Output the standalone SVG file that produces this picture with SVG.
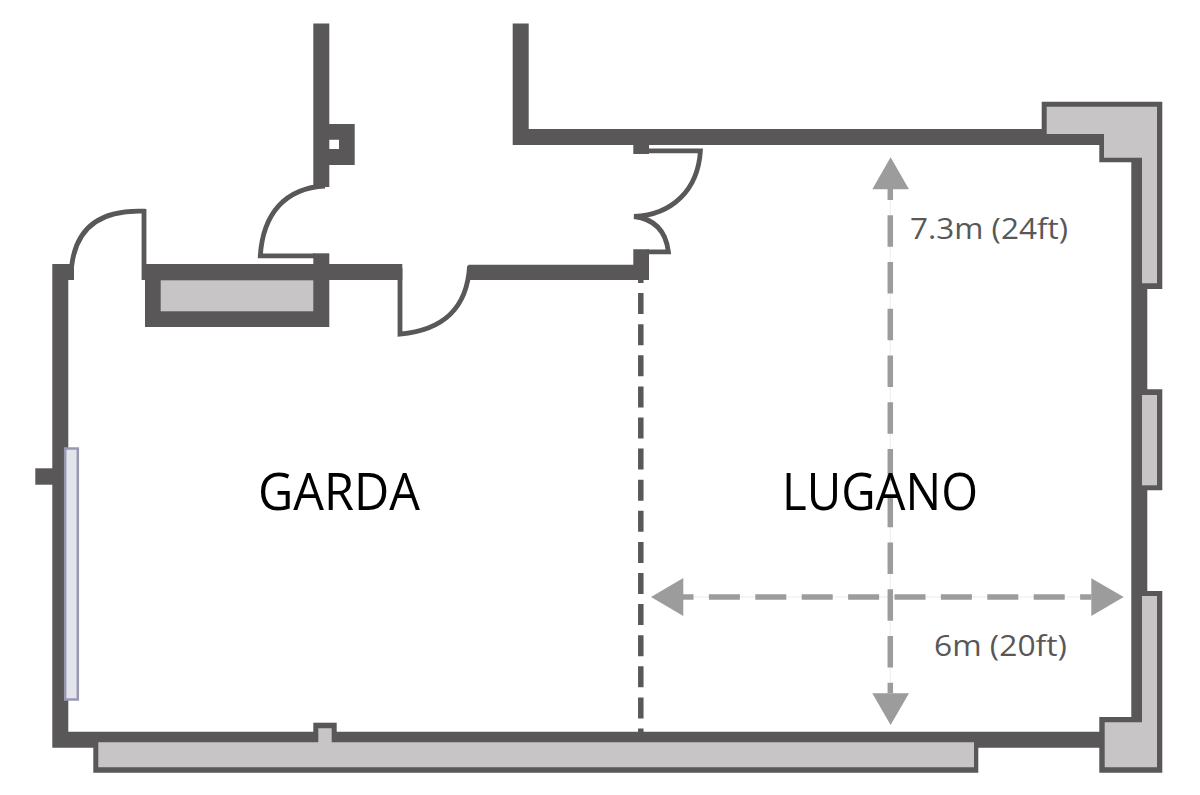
<svg xmlns="http://www.w3.org/2000/svg" width="1200" height="795" viewBox="0 0 1200 795">
<style>
.w{fill:#595758}
.f{fill:#c7c5c6}
.d{fill:none;stroke:#595758;stroke-width:4.8}
.a{fill:#9c9c9c}
.g{stroke:#9c9c9c;stroke-width:5.5;fill:none}
.h{stroke:#efefef;stroke-width:1.2;fill:none}
text{font-family:"Open Sans","Noto Sans","Liberation Sans",sans-serif}
.n{font-size:52px;fill:#000}
.m{font-size:30px;fill:#595758}
</style>
<rect width="1200" height="795" fill="#fff"/>
<g id="walls">
<path class="w" d="M313.3 23.5H329.3V124H354.7V165H329.3V187H313.3ZM329.3 139.7V149H339V139.7Z" fill-rule="evenodd"/>
<path class="w" d="M512.7 23.5H528.7V129H1050V145H512.7Z"/>
<path class="w" d="M633.3 145H649V154H633.3Z"/>
<path class="w" d="M52.3 264H74V280H68.3V731.7H1110V747.7H52.3Z"/>
<path class="w" d="M35.3 468.3H53V484.7H35.3Z"/>
<path class="w" d="M142 264H402.3V280H329.3V327H145V280H142Z"/>
<path class="w" d="M313.3 253.3H329.3V270H313.3Z"/>
<path class="w" d="M468.3 264.7H633.3V249.3H649V280H468.3Z"/>
</g>
<g id="pillar-top">
<path class="w" d="M1041.7 101.7H1162.3V289H1147.3V591H1162.3V772.7H1099.3V717H1131.3V162.3H1099.3V145H1041.7Z"/>
<path class="f" d="M1046.7 106.7H1157V283.3H1142V157.7H1104V134H1046.7Z"/>
</g>
<g id="pillar-middle">
<path class="w" d="M1142 389.3H1162.3V490.3H1142Z"/>
<rect class="f" x="1142" y="395" width="15" height="90.3"/>
</g>
<g id="pillar-bottom">
<path class="f" d="M1142 596H1157V767.3H1104.7V722.3H1142Z"/>
</g>
<g id="bench">
<path class="w" d="M93.3 745H978.3V772.7H93.3Z"/>
<path class="w" d="M313.3 722.7H336.7V735H313.3Z"/>
<path class="f" d="M98.3 742.3H318.3V728.3H331.7V742.3H974V767.3H98.3Z"/>
</g>
<g id="storage">
<rect class="f" x="160.7" y="280.3" width="152.6" height="31"/>
</g>
<g id="window">
<rect x="65.2" y="448.5" width="12.6" height="251" fill="#e4e5ec" stroke="#9899b0" stroke-width="2.5"/>
</g>
<g id="doors">
<path class="d" d="M144 280V211.2C100 209.5 76 228 71.7 266"/>
<path class="d" d="M325 186C285 188 263 214 260.3 255.8H315"/>
<path class="d" d="M400 268V334.2C442 330 467 310 469.6 266"/>
<path class="d" d="M645 150.8H700.4C698 190 672 215 634 216.5C655 219 666 232 668.4 251.8H647"/>
</g>
<g id="connectors">
<path d="M640.8 262V732" stroke="#595758" stroke-width="5.5" stroke-dasharray="21 10.1" fill="none"/>
<path class="h" d="M890.3 189V693M683 596.9H1091"/>
<path class="g" d="M890.3 168.5V693.3" stroke-dasharray="31.5 15.25"/>
<path class="g" d="M662.5 596.9H1091.5" stroke-dasharray="31 15.4"/>
<path class="a" d="M890.6 157.3L909 189.3H872.3ZM890.6 725L909 693.3H872.3ZM651 597L683.3 578V616ZM1123.7 597L1091.3 578.3V616Z"/>
</g>
<g id="labels">
<text class="n" x="258" y="510" textLength="162" lengthAdjust="spacingAndGlyphs">GARDA</text>
<text class="n" x="782" y="510" textLength="196" lengthAdjust="spacingAndGlyphs">LUGANO</text>
<text class="m" x="910" y="239" textLength="158" lengthAdjust="spacingAndGlyphs">7.3m (24ft)</text>
<text class="m" x="934" y="656" textLength="133" lengthAdjust="spacingAndGlyphs">6m (20ft)</text>
</g>
</svg>
